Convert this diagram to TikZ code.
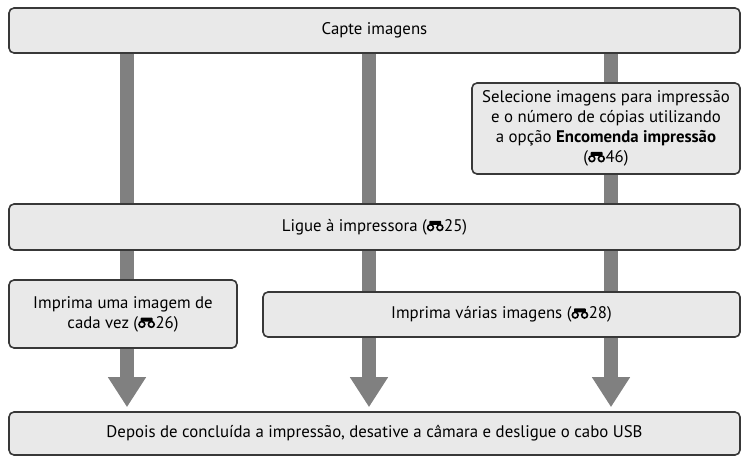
\documentclass[tikz,border=0pt]{standalone}
\usepackage{fontspec}
\setmainfont{PT Sans}
\usetikzlibrary{arrows.meta,backgrounds}
\definecolor{boxfill}{HTML}{E9E9E9}
\definecolor{boxline}{HTML}{383838}
\definecolor{bargray}{HTML}{808080}
\newcommand\bino{\tikz[baseline=0pt,x=1pt,y=1pt]{\draw[line width=1.6pt] (3.8,3.6) circle (2.9); \draw[line width=1.6pt] (13.2,3.6) circle (2.9); \fill[rounded corners=0.8pt] (2.6,6.4) rectangle (14.4,10.4);}\hspace{0.5pt}}
\begin{document}
\begin{tikzpicture}[x=1pt,y=-1pt,
  box/.style={draw=boxline, fill=boxfill, line width=1.6pt, rounded corners=5pt, inner sep=0pt, align=center, font=\fontsize{16.8}{19.8}\selectfont},
  gbar/.style={draw=bargray, line width=14pt},
  garrow/.style={gbar, -{Triangle[width=36pt,length=30pt]}, shorten >=4pt, fill=bargray}]
\useasboundingbox (0,0) rectangle (741,457);
\coordinate (c1) at (127,0);
\coordinate (c2) at (369,0);
\coordinate (c3) at (611,0);
\node[box, minimum width=731pt, minimum height=45pt] (cap) at (374.5,30.5) {Capte imagens};
\node[box, minimum width=268pt, minimum height=91pt] (sel) at (606,128.5) {Selecione imagens para impressão\\e o número de cópias utilizando\\a opção \textbf{Encomenda impressão}\\(\bino46)};
\node[box, minimum width=731pt, minimum height=46pt] (lig) at (374.5,227) {Ligue à impressora (\bino25)};
\node[box, minimum width=228pt, minimum height=68pt] (um) at (123,314) {Imprima uma imagem de\\cada vez (\bino26)};
\node[box, minimum width=477pt, minimum height=45pt] (var) at (501.5,314.5) {Imprima várias imagens (\bino28)};
\node[box, minimum width=731pt, minimum height=43pt] (fim) at (374.5,433.5) {Depois de concluída a impressão, desative a câmara e desligue o cabo USB};
\begin{pgfonlayer}{background}
\draw[gbar] (cap.south -| c1) -- (lig.north -| c1);
\draw[gbar] (lig.south -| c1) -- (um.north -| c1);
\draw[garrow] (um.south -| c1) -- (fim.north -| c1);
\draw[gbar] (cap.south -| c2) -- (lig.north -| c2);
\draw[gbar] (lig.south -| c2) -- (var.north -| c2);
\draw[garrow] (var.south -| c2) -- (fim.north -| c2);
\draw[gbar] (cap.south -| c3) -- (sel.north -| c3);
\draw[gbar] (sel.south -| c3) -- (lig.north -| c3);
\draw[gbar] (lig.south -| c3) -- (var.north -| c3);
\draw[garrow] (var.south -| c3) -- (fim.north -| c3);
\end{pgfonlayer}
\end{tikzpicture}
\end{document}
